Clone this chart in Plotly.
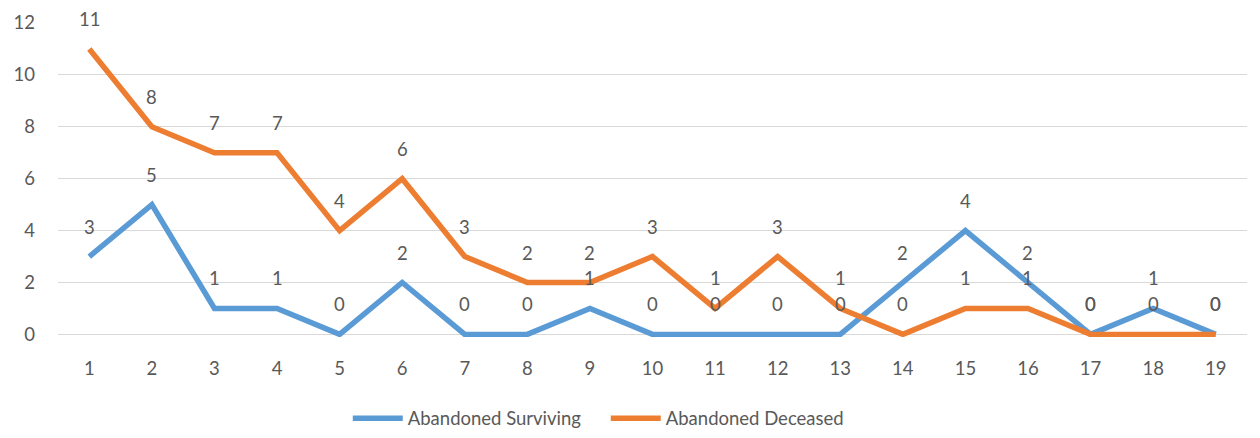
import plotly.graph_objects as go

categories = list(range(1, 20))
surviving = [3, 5, 1, 1, 0, 2, 0, 0, 1, 0, 0, 0, 0, 2, 4, 2, 0, 1, 0]
deceased = [11, 8, 7, 7, 4, 6, 3, 2, 2, 3, 1, 3, 1, 0, 1, 1, 0, 0, 0]
y_ticks = [0, 2, 4, 6, 8, 10, 12]

FONT = "Lato"
GRAY = "#595959"
BLUE = "#5B9BD5"
ORANGE = "#ED7D31"

fig = go.Figure()
fig.add_trace(go.Scatter(x=categories, y=surviving, mode="lines", name="Abandoned Surviving",
                         line=dict(color=BLUE, width=5.5)))
fig.add_trace(go.Scatter(x=categories, y=deceased, mode="lines", name="Abandoned Deceased",
                         line=dict(color=ORANGE, width=5.5)))

annotations = []
for series in (surviving, deceased):
    for xv, yv in zip(categories, series):
        annotations.append(dict(x=xv, y=yv, text=str(yv), showarrow=False, yshift=30,
                                font=dict(family=FONT, size=18.5, color=GRAY)))

fig.update_layout(
    width=1252, height=430,
    margin=dict(l=50, r=13, t=15, b=101, autoexpand=False),
    paper_bgcolor="white", plot_bgcolor="white",
    font=dict(family=FONT, size=18.5, color=GRAY),
    showlegend=True,
    legend=dict(orientation="h", x=0.4607, xanchor="center", y=-0.26, yanchor="middle",
                font=dict(family=FONT, size=18.5, color=GRAY), itemwidth=50,
                entrywidth=193, entrywidthmode="pixels", tracegroupgap=0),
    annotations=annotations,
    xaxis=dict(range=[0.5, 19.5], tickvals=categories, ticktext=[str(c) for c in categories],
               showgrid=False, zeroline=False, showline=False, ticks="",
               ticklabelstandoff=18, automargin=False),
    yaxis=dict(range=[-0.1, 12], tickvals=y_ticks, showgrid=True, gridcolor="#D9D9D9",
               gridwidth=1.3, zeroline=True, zerolinecolor="#D9D9D9", zerolinewidth=1.3,
               showline=False, ticks="", ticklabelstandoff=22, automargin=False),
)

fig.write_html("out.html")
